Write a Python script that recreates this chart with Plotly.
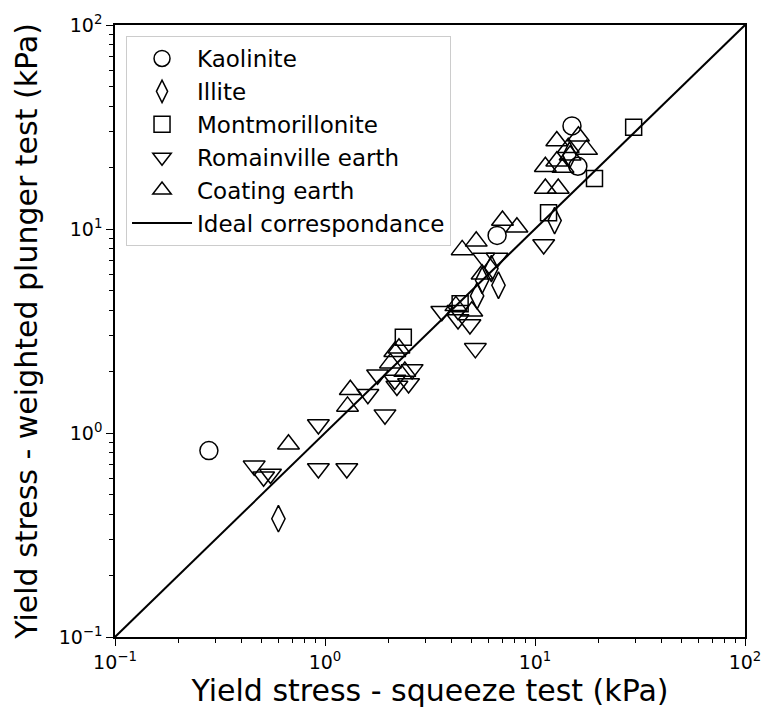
import plotly.graph_objects as go

# Kaolinite
kao_x = [0.28, 6.6, 15.0, 16.0]
kao_y = [0.82, 9.3, 32.0, 20.3]
# Illite
ill_x = [0.60, 5.3, 5.6, 6.2, 6.7, 12.4, 14.6]
ill_y = [0.38, 4.7, 5.6, 6.4, 5.3, 11.0, 23.0]
# Montmorillonite
mon_x = [2.36, 4.4, 11.6, 19.2, 29.5]
mon_y = [2.95, 4.3, 12.0, 17.7, 31.5]
# Romainville earth
rom_x = [0.46, 0.51, 0.55, 0.93, 0.93, 1.27, 1.60, 1.78, 1.93, 2.20, 2.50, 2.60,
         2.15, 3.6, 4.3, 4.3, 4.9, 5.2, 5.7, 6.6, 11.0]
rom_y = [0.69, 0.61, 0.63, 1.10, 0.67, 0.67, 1.55, 1.93, 1.23, 1.70, 1.75, 2.05,
         1.82, 3.95, 4.0, 3.6, 3.4, 2.6, 7.2, 7.2, 8.4]
# Coating earth
coa_x = [0.67, 1.28, 1.32, 2.05, 2.15, 2.25, 2.4, 4.2, 5.0, 5.6, 4.5, 5.25, 7.0, 8.2,
         11.2, 12.9, 11.2, 12.7, 13.6, 12.7, 14.4, 14.7, 16.1, 17.6]
coa_y = [0.88, 1.35, 1.63, 2.2, 2.5, 2.6, 2.0, 4.2, 3.95, 6.0, 7.9, 8.7, 11.0, 10.2,
         15.8, 15.8, 20.2, 21.5, 20.0, 27.0, 25.0, 23.0, 28.5, 24.5]
# Ideal correspondance line
ideal = [0.1, 100]

tick_vals = [0.1, 1, 10, 100]
tick_text = ["10<sup>\u22121</sup>", "10<sup>0</sup>", "10<sup>1</sup>", "10<sup>2</sup>"]
minor_vals = [m * 10 ** e for e in (-1, 0, 1) for m in range(2, 10)]

FONT = "DejaVu Sans"
mline = dict(color="black", width=1.5)

fig = go.Figure()
series = [
    ("Kaolinite", kao_x, kao_y, "circle-open", 18),
    ("Illite", ill_x, ill_y, "diamond-tall-open", 19),
    ("Montmorillonite", mon_x, mon_y, "square-open", 16),
    ("Romainville earth", rom_x, rom_y, "triangle-down-open", 19),
    ("Coating earth", coa_x, coa_y, "triangle-up-open", 19),
]
for i, (name, xs, ys, sym, sz) in enumerate(series):
    fig.add_trace(go.Scatter(
        x=xs, y=ys, mode="markers", name=name, legendgroup=f"g{i}",
        marker=dict(symbol=sym, size=sz, color="black", line=mline),
    ))
fig.add_trace(go.Scatter(
    x=ideal, y=ideal, mode="lines", name="Ideal correspondance", legendgroup="g9",
    line=dict(color="black", width=2),
))

axis_common = dict(
    type="log", range=[-1, 2], tickvals=tick_vals, ticktext=tick_text,
    ticks="outside", ticklen=7, tickwidth=1.2, tickcolor="black",
    showline=True, linecolor="black", linewidth=1.5, mirror=True,
    showgrid=False, zeroline=False, automargin=False,
    tickfont=dict(family=FONT, size=19, color="black"),
    minor=dict(tickvals=minor_vals, ticks="outside", ticklen=4, tickcolor="black", tickwidth=1, showgrid=False),
)

fig.update_layout(
    width=765, height=708,
    margin=dict(l=115, r=20, t=25, b=71),
    plot_bgcolor="white", paper_bgcolor="white",
    font=dict(family=FONT, color="black"),
    xaxis=dict(**axis_common, title=dict(text="Yield stress - squeeze test (kPa)",
                                         font=dict(family=FONT, size=30), standoff=4)),
    yaxis=dict(**axis_common, title=dict(text="Yield stress - weighted plunger test (kPa)",
                                         font=dict(family=FONT, size=30), standoff=12)),
    legend=dict(
        x=0.0175, y=0.982, xanchor="left", yanchor="top",
        bgcolor="rgba(255,255,255,0.8)", bordercolor="#cccccc", borderwidth=1,
        font=dict(family=FONT, size=23, color="black"),
        traceorder="grouped", tracegroupgap=0, itemwidth=60,
    ),
    showlegend=True,
)

fig.write_html("out.html", config={"displayModeBar": False},
               post_script="document.body.style.margin='0';")
